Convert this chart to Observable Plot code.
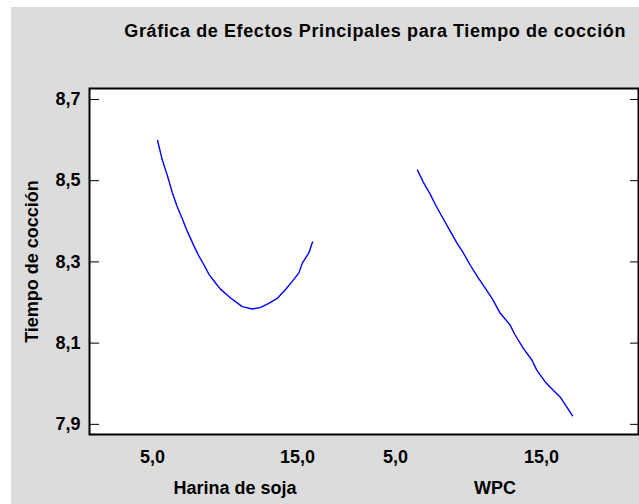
<!DOCTYPE html>
<html>
<head>
<meta charset="utf-8">
<script src="https://cdn.jsdelivr.net/npm/d3@7"></script>
<script src="https://cdn.jsdelivr.net/npm/@observablehq/plot@0.6"></script>
<style>
  body { margin: 0; background: #ffffff; }
  #chart {
    position: relative; width: 639px; height: 504px; overflow: hidden;
    background: #ffffff; font-family: "Liberation Sans", Arial, sans-serif;
  }
  #panel { position: absolute; left: 11px; top: 7px; right: 0; bottom: 0; background: #dcdcdc; }
  #title {
    position: absolute; right: 13px; top: 20px; font-size: 18px; font-weight: bold;
    letter-spacing: 0.6px; color: #000; white-space: nowrap; line-height: 22px;
  }
  #chart svg { position: absolute; left: 0; top: 0; background: transparent; }
</style>
</head>
<body>
<div id="chart">
  <div id="panel"></div>
  <div id="title">Gráfica de Efectos Principales para Tiempo de cocción</div>
</div>
<script>
// Factors and their low/high levels
const factors = ["Harina de soja", "WPC"];
const levels = [5, 15];

// Fitted response along each factor (other factor held at its centre)
const harinaX = [5.0, 5.3, 5.63, 5.95, 6.27, 6.59, 6.9, 7.34, 7.66, 7.99, 8.31, 8.74, 9.06, 9.71, 10.25, 10.46, 11.11, 11.65, 12.18, 12.72, 13.26, 13.69, 14.12, 14.34, 14.76, 15.0];
const harinaY = [8.599, 8.552, 8.513, 8.471, 8.436, 8.407, 8.377, 8.34, 8.315, 8.293, 8.27, 8.248, 8.233, 8.211, 8.196, 8.19, 8.184, 8.188, 8.198, 8.21, 8.232, 8.252, 8.273, 8.297, 8.322, 8.349];
const wpcX = [5.0, 5.39, 5.82, 6.14, 6.68, 7.11, 7.54, 7.96, 8.39, 8.93, 9.36, 9.86, 10.33, 10.97, 11.3, 11.83, 12.37, 12.69, 13.23, 13.76, 14.19, 14.63, 15.0];
const wpcY = [8.526, 8.495, 8.467, 8.442, 8.405, 8.376, 8.347, 8.322, 8.293, 8.26, 8.236, 8.207, 8.174, 8.145, 8.12, 8.087, 8.059, 8.034, 8.005, 7.984, 7.968, 7.943, 7.921];

// Y axis ticks
const yTicks = [7.9, 8.1, 8.3, 8.5, 8.7];

// Side-by-side panels share one x scale; each factor is shifted by this many units
const PANEL_SHIFT = 16.77;
// The level labels sit a little left of their level, more so further right (px)
const levelLabelNudge = [-5, -15, -22, -31];

const series = [
  {factor: factors[0], xs: harinaX, ys: harinaY},
  {factor: factors[1], xs: wpcX, ys: wpcY}
];
const rows = series.flatMap((s, i) =>
  s.xs.map((x, j) => ({factor: s.factor, u: x + i * PANEL_SHIFT, y: s.ys[j]})));
const levelTicks = series.flatMap((s, i) =>
  levels.map(l => ({u: l + i * PANEL_SHIFT, level: l})));
const factorLabels = series.map((s, i) => ({
  factor: s.factor,
  u: d3.mean(levels) + i * PANEL_SHIFT
}));

const fmt = d => d.toFixed(1).replace(".", ",");
const font = {fontSize: 18, fontWeight: "bold", fontFamily: "Liberation Sans, Arial, sans-serif"};

const chart = Plot.plot({
  width: 639,
  height: 504,
  marginLeft: 89,
  marginRight: 1,
  marginTop: 88,
  marginBottom: 70,
  style: {background: "transparent", color: "#000", overflow: "visible"},
  x: {domain: [0.61, 36.03]},
  y: {domain: [7.875, 8.727]},
  marks: [
    Plot.frame({fill: "#ffffff"}),
    Plot.line(rows, {x: "u", y: "y", z: "factor", stroke: "#0000ff", strokeWidth: 1.4}),
    Plot.axisY(yTicks, {
      anchor: "left", tickSize: -10, tickPadding: 19, tickFormat: fmt,
      ...font,
      label: "Tiempo de cocción", labelAnchor: "center", labelOffset: 64, labelArrow: "none"
    }),
    Plot.axisY(yTicks, {anchor: "right", tickSize: -9, tickFormat: () => "", label: null}),
    ...levelTicks.map((t, k) => Plot.axisX([t.u], {
      anchor: "bottom", tickSize: 0, tickPadding: 16, dx: levelLabelNudge[k],
      tickFormat: () => fmt(t.level), label: null, ...font
    })),
    Plot.text(factorLabels, {
      x: "u", text: "factor", frameAnchor: "bottom", dy: 59, ...font
    }),
    Plot.frame({stroke: "#000", strokeWidth: 2})
  ]
});

document.getElementById("chart").appendChild(chart);
</script>
</body>
</html>
